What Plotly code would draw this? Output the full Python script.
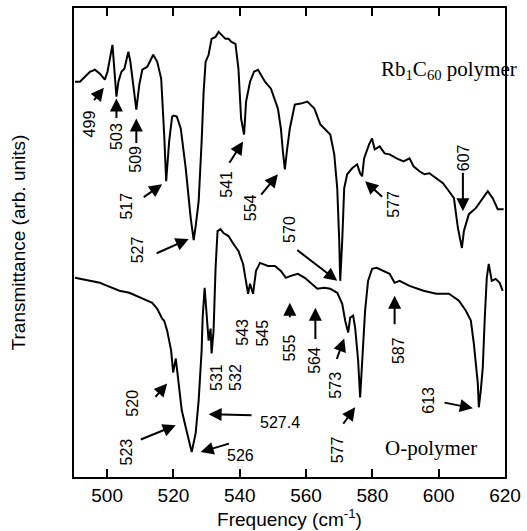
import plotly.graph_objects as go

# Rb1C60 polymer spectrum (frequency cm^-1, transmittance arb. units)
rb_freq = [490.3, 491.8, 493.3, 494.8, 496.3, 497.8, 499.3, 500.1, 501.6, 502.2, 502.8, 503.4, 504.3, 505.2,
           506.4, 507.0, 507.6, 508.2, 508.8, 509.7, 510.6, 512.1, 513.9, 515.1, 516.3, 517.2, 517.8, 518.7,
           519.6, 520.1, 521.0, 522.2, 523.7, 525.2, 526.1, 526.7, 527.6, 528.5, 529.1, 529.7, 530.6, 531.5,
           532.7, 533.6, 534.5, 535.7, 536.6, 537.5, 538.7, 539.6, 540.4, 541.3, 541.9, 543.1, 544.3, 545.5,
           547.6, 549.4, 551.5, 552.4, 553.0, 553.6, 554.2, 555.1, 556.6, 558.4, 560.4, 562.5, 564.3, 566.4,
           567.3, 568.5, 569.4, 570.0, 570.3, 570.9, 571.5, 572.4, 573.9, 575.4, 576.3, 576.9, 577.5, 579.0,
           579.9, 580.7, 582.2, 583.7, 585.2, 587.3, 589.4, 591.2, 592.4, 594.2, 595.7, 597.2, 599.3, 601.3,
           603.1, 604.6, 605.8, 607.0, 607.6, 609.1, 611.2, 612.7, 614.8, 616.3, 617.8, 619.6]
rb_trans = [397, 397, 402, 407, 409, 405, 399, 407, 434, 407, 382, 397, 407, 410,
            427, 417, 400, 382, 369, 394, 409, 412, 424, 417, 400, 344, 297, 337,
            362, 363, 362, 350, 310, 260, 238, 252, 277, 337, 387, 417, 424, 440,
            442, 447, 444, 440, 440, 437, 435, 410, 360, 344, 377, 397, 407, 409,
            397, 390, 370, 350, 327, 309, 327, 350, 374, 375, 377, 370, 354, 347,
            344, 324, 290, 237, 197, 237, 290, 304, 310, 314, 305, 302, 320, 334,
            340, 329, 332, 325, 324, 320, 317, 320, 312, 307, 304, 305, 300, 295,
            287, 280, 250, 230, 247, 264, 270, 277, 287, 280, 269, 269]

# O-polymer spectrum
o_freq = [490.3, 491.8, 493.3, 494.8, 496.3, 497.8, 499.3, 501.6, 503.7, 506.7, 508.8, 511.8, 513.6, 515.1,
          516.6, 517.2, 518.1, 519.3, 519.9, 520.7, 521.6, 522.5, 523.7, 524.6, 525.5, 526.7, 527.6, 528.5,
          528.8, 529.4, 530.0, 530.6, 531.2, 531.5, 532.1, 532.7, 533.3, 534.2, 535.1, 536.6, 538.1, 539.6,
          541.0, 541.9, 542.5, 543.1, 544.0, 544.9, 546.1, 548.5, 550.6, 552.4, 553.9, 555.4, 557.5, 559.6,
          561.3, 563.4, 565.5, 567.3, 569.4, 570.9, 571.8, 572.7, 573.3, 574.2, 574.8, 575.7, 576.3, 576.9,
          577.8, 578.7, 579.9, 581.3, 583.4, 585.2, 586.7, 588.2, 591.2, 595.4, 599.3, 603.1, 606.1, 608.2,
          609.7, 610.6, 611.8, 612.1, 612.7, 613.3, 613.9, 614.5, 615.1, 616.0, 617.2, 618.4, 619.3]
o_trans = [200, 199, 198, 197, 196, 195, 193, 190, 187, 185, 182, 177, 175, 169,
           159, 157, 147, 127, 105, 119, 94, 67, 50, 37, 25, 44, 77, 127,
           160, 190, 167, 137, 149, 124, 147, 210, 247, 249, 245, 242, 234, 227,
           214, 197, 184, 194, 184, 207, 215, 212, 212, 207, 200, 202, 204, 200,
           195, 189, 190, 189, 185, 174, 157, 145, 160, 162, 150, 117, 80, 117,
           167, 197, 209, 210, 207, 204, 195, 197, 192, 187, 184, 184, 177, 167,
           157, 134, 94, 70, 87, 110, 160, 200, 214, 197, 199, 195, 187]

# peak labels
v_labels = ["499", "503", "509", "517", "527", "541", "554", "570", "577", "607",
            "520", "523", "531", "532", "543", "545", "555", "564", "573", "577", "587", "613"]
v_lab_x = [494.8, 502.8, 508.5, 505.8, 509.4, 536.0, 543.1, 554.8, 586.4, 607.3,
           507.6, 505.8, 533.0, 538.7, 541.0, 547.0, 555.1, 562.5, 568.8, 569.4, 587.9, 596.9]
v_lab_y = [355, 342, 319, 272, 228, 294, 270, 249, 274, 321,
           74, 25, 100, 100, 145, 145, 130, 117, 92, 27, 127, 77]

h_labels = ["526", "527.4"]
h_lab_x = [540.1, 552.1]
h_lab_y = [22, 55]

arrow_tail_x = [495.7, 502.8, 508.8, 510.6, 514.5, 536.6, 546.1, 556.9, 583.4, 607.3,
                514.2, 509.7, 537.2, 544.0, 555.1, 562.8, 569.1, 570.9, 586.7, 601.3]
arrow_tail_y = [377, 359, 334, 280, 224, 314, 282, 229, 280, 307,
                79, 37, 34, 62, 159, 137, 117, 52, 152, 75]
arrow_tip_x = [499.0, 502.8, 508.8, 516.6, 524.6, 541.0, 551.5, 569.4, 577.8, 607.3,
               518.1, 520.7, 528.2, 530.6, 555.1, 562.8, 571.5, 574.8, 586.7, 610.3]
arrow_tip_y = [391, 380, 360, 294, 239, 337, 304, 197, 297, 267,
               94, 52, 25, 63, 175, 170, 139, 70, 182, 69]

x_ticks = [500, 520, 540, 560, 580, 600, 620]

SANS = "Liberation Sans, Arial, Helvetica, sans-serif"
SERIF = "Liberation Serif, Times New Roman, serif"

fig = go.Figure()
fig.add_trace(go.Scatter(x=rb_freq, y=rb_trans, mode="lines",
                         line=dict(color="black", width=2), showlegend=False, hoverinfo="skip"))
fig.add_trace(go.Scatter(x=o_freq, y=o_trans, mode="lines",
                         line=dict(color="black", width=2), showlegend=False, hoverinfo="skip"))

anns = []
for t, x, y in zip(v_labels, v_lab_x, v_lab_y):
    anns.append(dict(x=x, y=y, xref="x", yref="y", text=t, showarrow=False, textangle=-90,
                     font=dict(family=SANS, size=16, color="black")))
for t, x, y in zip(h_labels, h_lab_x, h_lab_y):
    anns.append(dict(x=x, y=y, xref="x", yref="y", text=t, showarrow=False,
                     font=dict(family=SANS, size=16, color="black")))
for tx, ty, hx, hy in zip(arrow_tail_x, arrow_tail_y, arrow_tip_x, arrow_tip_y):
    anns.append(dict(x=hx, y=hy, ax=tx, ay=ty, xref="x", yref="y", axref="x", ayref="y",
                     text="", showarrow=True, arrowhead=2, arrowsize=1.3, arrowwidth=2,
                     arrowcolor="black"))
anns.append(dict(x=603.1, y=409, xref="x", yref="y",
                 text="Rb<sub>1</sub>C<sub>60</sub> polymer", showarrow=False,
                 font=dict(family=SERIF, size=21, color="black")))
anns.append(dict(x=597.8, y=29, xref="x", yref="y", text="O-polymer", showarrow=False,
                 font=dict(family=SERIF, size=21, color="black")))

fig.update_layout(
    width=527, height=531,
    margin=dict(l=74, r=18, t=6, b=54),
    paper_bgcolor="white", plot_bgcolor="white",
    annotations=anns,
    xaxis=dict(range=[490, 620], tickvals=x_ticks, ticks="inside", ticklen=8, tickwidth=2,
               tickcolor="black", showline=True, linecolor="black", linewidth=2, mirror="ticks",
               showgrid=False, zeroline=False,
               tickfont=dict(family=SANS, size=19, color="black"),
               title=dict(text="Frequency (cm<sup>-1</sup>)", standoff=4,
                          font=dict(family=SANS, size=19, color="black"))),
    yaxis=dict(range=[0, 471], showticklabels=False, ticks="", showline=True, linecolor="black",
               linewidth=2, mirror=True, showgrid=False, zeroline=False,
               title=dict(text="Transmittance (arb. units)", standoff=41,
                          font=dict(family=SANS, size=19, color="black"))),
)

fig.write_html("out.html", config={"displayModeBar": False},
               post_script="document.body.style.margin='0';document.body.style.overflow='hidden';")
